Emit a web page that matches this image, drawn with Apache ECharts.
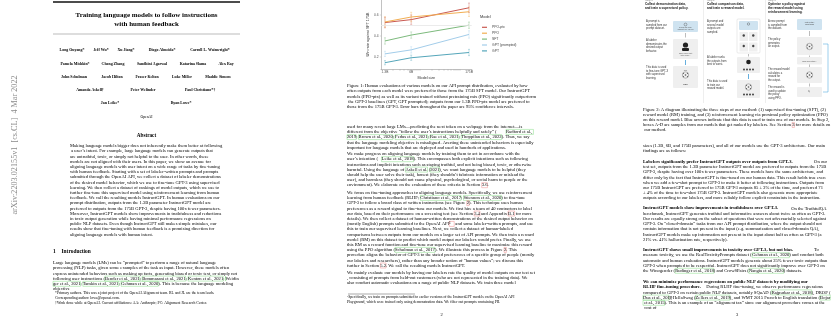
<!DOCTYPE html>
<html>
<head>
<meta charset="utf-8">
<script src="https://cdn.jsdelivr.net/npm/echarts@6/dist/echarts.min.js"></script>
<style>
  html, body { margin: 0; padding: 0; background: #fff; }
  #chart { width: 840px; height: 316px; }
</style>
</head>
<body>
<div id="chart"></div>
<script>
// ---- chart data (Figure 1: win rate against SFT 175B) ----
const modelSizes = [1.3, 6, 175];
const seriesNames = ['PPO-ptx', 'PPO', 'SFT', 'GPT (prompted)', 'GPT'];
const seriesColors = ['#c95a52', '#f2ae52', '#7dba7d', '#a3cdea', '#55a6ba'];
const ppoPtxWin = [0.525, 0.553, 0.666];
const ppoWin = [0.531, 0.578, 0.628];
const sftWin = [0.35, 0.406, 0.50];
const gptPromptedWin = [0.227, 0.265, 0.412];
const gptWin = [0.143, 0.19, 0.24];
const ppoPtxErr = [0.05, 0.045, 0.045];
const ppoErr = [0.05, 0.045, 0.045];
const sftErr = [0.03, 0.03, 0.03];
const gptPromptedErr = [0.025, 0.03, 0.035];
const gptErr = [0.02, 0.025, 0.03];
const yTickValues = [0.2, 0.4, 0.6];
const xLabelValues = [1.3, 6, 175];
const xMinorTicks = [2, 3, 4, 5, 6, 7, 8, 9, 10, 20, 30, 40, 50, 60, 70, 80, 90, 100, 200];
const refLine = 0.5;

const winRates = [ppoPtxWin, ppoWin, sftWin, gptPromptedWin, gptWin];
const winErrs = [ppoPtxErr, ppoErr, sftErr, gptPromptedErr, gptErr];

// ---- page text ----
// {b|..} bold lead-in, {c|..} green citation box, {r|..} red reference box
const SERIF = 'Liberation Serif';
const SANS = 'Liberation Sans';
const INK = '#000';

const titleLines = ['Training language models to follow instructions', 'with human feedback'];
const authorRows = [
  [['Long Ouyang*', 72], ['Jeff Wu*', 101], ['Xu Jiang*', 126], ['Diogo Almeida*', 162], ['Carroll L. Wainwright*', 210]],
  [['Pamela Mishkin*', 75], ['Chong Zhang', 113], ['Sandhini Agarwal', 152], ['Katarina Slama', 193], ['Alex Ray', 226]],
  [['John Schulman', 74], ['Jacob Hilton', 112], ['Fraser Kelton', 147], ['Luke Miller', 182], ['Maddie Simens', 218]],
  [['Amanda Askell\u2020', 90], ['Peter Welinder', 143], ['Paul Christiano*\u2020', 200]],
  [['Jan Leike*', 110], ['Ryan Lowe*', 181]]
];
const authorRowY = [50, 63.5, 77, 90, 103];

const abstractText = 'Making language models bigger does not inherently make them better at following a user\u2019s intent. For example, large language models can generate outputs that are untruthful, toxic, or simply not helpful to the user. In other words, these models are not aligned with their users. In this paper, we show an avenue for aligning language models with user intent on a wide range of tasks by fine-tuning with human feedback. Starting with a set of labeler-written prompts and prompts submitted through the OpenAI API, we collect a dataset of labeler demonstrations of the desired model behavior, which we use to fine-tune GPT-3 using supervised learning. We then collect a dataset of rankings of model outputs, which we use to further fine-tune this supervised model using reinforcement learning from human feedback. We call the resulting models InstructGPT. In human evaluations on our prompt distribution, outputs from the 1.3B parameter InstructGPT model are preferred to outputs from the 175B GPT-3, despite having 100x fewer parameters. Moreover, InstructGPT models show improvements in truthfulness and reductions in toxic output generation while having minimal performance regressions on public NLP datasets. Even though InstructGPT still makes simple mistakes, our results show that fine-tuning with human feedback is a promising direction for aligning language models with human intent.';
const introText = 'Large language models (LMs) can be \u201cprompted\u201d to perform a range of natural language processing (NLP) tasks, given some examples of the task as input. However, these models often express unintended behaviors such as making up facts, generating biased or toxic text, or simply not following user instructions ({c|Bender et al., 2021}; {c|Bommasani et al., 2021}; {c|Kenton et al., 2021}; {c|Weidinger et al., 2021}; {c|Tamkin et al., 2021}; {c|Gehman et al., 2020}). This is because the language modeling objective';
const footnote1 = '*Primary authors. This was a joint project of the OpenAI Alignment team. RL and JL are the team leads. Corresponding author: lowe@openai.com.\n\u2020Work done while at OpenAI. Current affiliations: AA: Anthropic; PC: Alignment Research Center.';

const fig1Caption = 'Figure 1: Human evaluations of various models on our API prompt distribution, evaluated by how often outputs from each model were preferred to those from the 175B SFT model. Our InstructGPT models (PPO-ptx) as well as its variant trained without pretraining mix (PPO) significantly outperform the GPT-3 baselines (GPT, GPT prompted); outputs from our 1.3B PPO-ptx model are preferred to those from the 175B GPT-3. Error bars throughout the paper are 95% confidence intervals.';
const page2Paras = [
  'used for many recent large LMs\u2014predicting the next token on a webpage from the internet\u2014is different from the objective \u201cfollow the user\u2019s instructions helpfully and safely\u201d ({c|Radford et al., 2019}; {c|Brown et al., 2020}; {c|Fedus et al., 2021}; {c|Rae et al., 2021}; {c|Thoppilan et al., 2022}). Thus, we say that the language modeling objective is misaligned. Averting these unintended behaviors is especially important for language models that are deployed and used in hundreds of applications.',
  'We make progress on aligning language models by training them to act in accordance with the user\u2019s intention ({c|Leike et al., 2018}). This encompasses both explicit intentions such as following instructions and implicit intentions such as staying truthful, and not being biased, toxic, or otherwise harmful. Using the language of {c|Askell et al.} ({c|2021}), we want language models to be helpful (they should help the user solve their task), honest (they shouldn\u2019t fabricate information or mislead the user), and harmless (they should not cause physical, psychological, or social harm to people or the environment). We elaborate on the evaluation of these criteria in Section {r|3.6}.',
  'We focus on fine-tuning approaches to aligning language models. Specifically, we use reinforcement learning from human feedback (RLHF; {c|Christiano et al., 2017}; {c|Stiennon et al., 2020}) to fine-tune GPT-3 to follow a broad class of written instructions (see Figure {r|2}). This technique uses human preferences as a reward signal to fine-tune our models. We first hire a team of 40 contractors to label our data, based on their performance on a screening test (see Section {r|3.4} and Appendix {r|B.1} for more details). We then collect a dataset of human-written demonstrations of the desired output behavior on (mostly English) prompts submitted to the OpenAI API{r|\u00b9} and some labeler-written prompts, and use this to train our supervised learning baselines. Next, we collect a dataset of human-labeled comparisons between outputs from our models on a larger set of API prompts. We then train a reward model (RM) on this dataset to predict which model output our labelers would prefer. Finally, we use this RM as a reward function and fine-tune our supervised learning baseline to maximize this reward using the PPO algorithm ({c|Schulman et al., 2017}). We illustrate this process in Figure {r|2}. This procedure aligns the behavior of GPT-3 to the stated preferences of a specific group of people (mostly our labelers and researchers), rather than any broader notion of \u201chuman values\u201d; we discuss this further in Section {r|5.2}. We call the resulting models InstructGPT.',
  'We mainly evaluate our models by having our labelers rate the quality of model outputs on our test set, consisting of prompts from held-out customers (who are not represented in the training data). We also conduct automatic evaluations on a range of public NLP datasets. We train three model'
];
const page2ParaY = [124.1, 151.4, 190.1, 270.1];
const footnote2 = '\u00b9Specifically, we train on prompts submitted to earlier versions of the InstructGPT models on the OpenAI API Playground, which were trained only using demonstration data. We filter out prompts containing PII.';

const fig2Caption = 'Figure 2: A diagram illustrating the three steps of our method: (1) supervised fine-tuning (SFT), (2) reward model (RM) training, and (3) reinforcement learning via proximal policy optimization (PPO) on this reward model. Blue arrows indicate that this data is used to train one of our models. In Step 2, boxes A-D are samples from our models that get ranked by labelers. See Section {r|3} for more details on our method.';
const page3Paras = [
  'sizes (1.3B, 6B, and 175B parameters), and all of our models use the GPT-3 architecture. Our main findings are as follows:',
  '{b|Labelers significantly prefer InstructGPT outputs over outputs from GPT-3.} On our test set, outputs from the 1.3B parameter InstructGPT model are preferred to outputs from the 175B GPT-3, despite having over 100x fewer parameters. These models have the same architecture, and differ only by the fact that InstructGPT is fine-tuned on our human data. This result holds true even when we add a few-shot prompt to GPT-3 to make it better at following instructions. Outputs from our 175B InstructGPT are preferred to 175B GPT-3 outputs 85 \u00b1 3% of the time, and preferred 71 \u00b1 4% of the time to few-shot 175B GPT-3. InstructGPT models also generate more appropriate outputs according to our labelers, and more reliably follow explicit constraints in the instruction.',
  '{b|InstructGPT models show improvements in truthfulness over GPT-3.} On the TruthfulQA benchmark, InstructGPT generates truthful and informative answers about twice as often as GPT-3. Our results are equally strong on the subset of questions that were not adversarially selected against GPT-3. On \u201cclosed-domain\u201d tasks from our API prompt distribution, where the output should not contain information that is not present in the input (e.g. summarization and closed-domain QA), InstructGPT models make up information not present in the input about half as often as GPT-3 (a 21% vs. 41% hallucination rate, respectively).',
  '{b|InstructGPT shows small improvements in toxicity over GPT-3, but not bias.} To measure toxicity, we use the RealToxicityPrompts dataset ({c|Gehman et al., 2020}) and conduct both automatic and human evaluations. InstructGPT models generate about 25% fewer toxic outputs than GPT-3 when prompted to be respectful. InstructGPT does not significantly improve over GPT-3 on the Winogender ({c|Rudinger et al., 2018}) and CrowSPairs ({c|Nangia et al., 2020}) datasets.',
  '{b|We can minimize performance regressions on public NLP datasets by modifying our RLHF fine-tuning procedure.} During RLHF fine-tuning, we observe performance regressions compared to GPT-3 on certain public NLP datasets, notably SQuAD ({c|Rajpurkar et al., 2018}), DROP ({c|Dua et al., 2019}), HellaSwag ({c|Zellers et al., 2019}), and WMT 2015 French to English translation ({c|Bojar et al., 2015}). This is an example of an \u201calignment tax\u201d since our alignment procedure comes at the cost of'
];
const page3ParaY = [143.4, 159.1, 205.7, 247.4, 279.4];

// ---- graphic helpers ----
function txt(x, y, text, o, rotation) {
  return { type: 'text', x: x, y: y, rotation: rotation || 0, silent: true,
    style: Object.assign({ text: text, fontFamily: SERIF, fontSize: 4.5, fill: INK, align: 'left', verticalAlign: 'middle' }, o || {}) };
}
function para(x, y, w, text, o) {
  const fs = (o && o.fontSize) || 4.6;
  const lh = (o && o.lineHeight) || 5.2;
  const base = { fontFamily: SERIF, fontSize: fs, lineHeight: lh, fill: INK };
  return { type: 'text', x: x, y: y, silent: true,
    style: Object.assign({ text: text, width: w, overflow: 'break', fontFamily: SERIF, fontSize: fs, lineHeight: lh,
      fill: INK, verticalAlign: 'top',
      rich: {
        b: Object.assign({ fontWeight: 'bold' }, base),
        c: Object.assign({ borderColor: '#86dc86', borderWidth: 0.5 }, base),
        r: Object.assign({ borderColor: '#ee8a8a', borderWidth: 0.5 }, base)
      } }, o || {}) };
}
function rect(x, y, w, h, fill, stroke, r) {
  return { type: 'rect', silent: true, shape: { x: x, y: y, width: w, height: h, r: r || 0 },
    style: { fill: fill, stroke: stroke || null, lineWidth: 0.4 } };
}
function seg(x1, y1, x2, y2, color, w) {
  return { type: 'line', silent: true, shape: { x1: x1, y1: y1, x2: x2, y2: y2 }, style: { stroke: color, lineWidth: w || 0.5 } };
}
function dot(cx, cy, r, fill, stroke) {
  return { type: 'circle', silent: true, shape: { cx: cx, cy: cy, r: r }, style: { fill: fill, stroke: stroke || null, lineWidth: 0.4 } };
}
function small(x, y, text, o) {
  return { type: 'text', x: x, y: y, silent: true,
    style: Object.assign({ text: text, fontFamily: SANS, fontSize: 2.7, lineHeight: 3.4, fill: '#333', verticalAlign: 'top' }, o || {}) };
}
function netIcon(cx, cy) {
  return [dot(cx, cy, 3.2, 'none', '#555'), dot(cx, cy, 0.8, '#555'), dot(cx - 2, cy - 1.5, 0.6, '#555'),
    dot(cx + 2, cy - 1.5, 0.6, '#555'), dot(cx - 2, cy + 1.5, 0.6, '#555'), dot(cx + 2, cy + 1.5, 0.6, '#555')];
}
function dotRow(cx, cy) {
  return [-4.5, -1.5, 1.5, 4.5].map(function (d) { return dot(cx + d, cy, 1, '#444'); });
}

const graphics = [];
// page 1
graphics.push(txt(15, 145, 'arXiv:2203.02155v1  [cs.CL]  4 Mar 2022', { fontSize: 8.2, fill: '#8a8a8a', align: 'center' }, Math.PI / 2));
graphics.push(rect(53, 1.3, 187, 1.4, '#111'));
titleLines.forEach(function (s, i) {
  graphics.push(txt(146.5, 15 + i * 9, s, { fontSize: 7, fontWeight: 'bold', align: 'center' }));
});
graphics.push(rect(53, 33.8, 187, 0.5, '#777'));
authorRows.forEach(function (row, i) {
  row.forEach(function (a) {
    graphics.push(txt(a[1], authorRowY[i], a[0], { fontSize: 3.9, fontWeight: 'bold', align: 'center' }));
  });
});
graphics.push(txt(146.5, 117, 'OpenAI', { fontSize: 3.8, align: 'center' }));
graphics.push(txt(146.5, 136, 'Abstract', { fontSize: 5.2, fontWeight: 'bold', align: 'center' }));
graphics.push(para(70, 143.4, 153, abstractText));
graphics.push(txt(53, 252, '1', { fontSize: 5.4, fontWeight: 'bold' }));
graphics.push(txt(61.5, 252, 'Introduction', { fontSize: 5.4, fontWeight: 'bold' }));
graphics.push(para(53, 260.4, 187, introText));
graphics.push(para(55, 290.6, 185, footnote1, { fontSize: 3.8, lineHeight: 5 }));

// page 2
graphics.push(para(347, 83.4, 189, fig1Caption));
page2Paras.forEach(function (p, i) { graphics.push(para(347, page2ParaY[i], 189, p)); });
graphics.push(rect(348, 293.8, 67, 0.4, '#555'));
graphics.push(para(347, 294.8, 189, footnote2, { fontSize: 3.8, lineHeight: 5 }));
graphics.push(txt(441.5, 315, '2', { fontSize: 4.5, align: 'center' }));
graphics.push(txt(480, 17, 'Model', { fontFamily: SANS, fontSize: 3.9, fill: '#333' }));

// page 3 diagram
graphics.push(seg(703.5, 0, 703.5, 103, '#dddddd', 0.5));
graphics.push(seg(765.5, 0, 765.5, 103, '#dddddd', 0.5));
[[645, 'Step 1', 'Collect demonstration data,\nand train a supervised policy.'],
 [707, 'Step 2', 'Collect comparison data,\nand train a reward model.'],
 [768, 'Step 3', 'Optimize a policy against\nthe reward model using\nreinforcement learning.']].forEach(function (h) {
  graphics.push(small(h[0], -1.2, h[1], { fill: '#777' }));
  graphics.push(small(h[0], 2.4, h[2], { fontWeight: 'bold', fontSize: 3.1, lineHeight: 3.7, fill: '#111' }));
});
// column 1
graphics.push(small(646, 20, 'A prompt is\nsampled from our\nprompt dataset.'));
graphics.push(rect(673, 21, 25, 11, '#cfe3f0', null, 1));
graphics.push(dot(685.5, 24.5, 1.4, 'none', '#444'));
graphics.push(small(685.5, 27, 'Explain the moon\nlanding to a 6 year old', { fontSize: 1.6, lineHeight: 2, align: 'center', fill: '#555' }));
graphics.push(seg(685.5, 33, 685.5, 37.5, '#555', 0.4));
graphics.push(small(646, 39, 'A labeler\ndemonstrates the\ndesired output\nbehavior.'));
graphics.push(rect(673, 39, 25, 20, '#efefef', null, 1));
graphics.push(dot(685.5, 45, 2.6, '#222'));
graphics.push(rect(682, 48, 7, 3, '#222', null, 1));
graphics.push(small(685.5, 53, 'Some people went\nto the moon...', { fontSize: 1.6, lineHeight: 2, align: 'center', fill: '#555' }));
graphics.push(seg(685.5, 60, 685.5, 65, '#3d9ad6', 0.8));
graphics.push(small(646, 66, 'This data is used\nto fine-tune GPT-3\nwith supervised\nlearning.'));
graphics.push(rect(673, 66, 25, 22, '#efefef', null, 1));
netIcon(685.5, 75).forEach(function (g) { graphics.push(g); });
graphics.push(small(685.5, 68.5, 'SFT', { fontSize: 1.8, align: 'center', fill: '#555' }));
graphics.push(small(685.5, 82.5, 'BBB', { fontSize: 2.2, align: 'center', fill: '#444' }));
// column 2
graphics.push(small(707, 20, 'A prompt and\nseveral model\noutputs are\nsampled.'));
graphics.push(rect(737, 19, 23, 34, '#ffffff', '#cccccc', 1));
graphics.push(rect(739, 21, 19, 9, '#cfe3f0', null, 1));
graphics.push(dot(748.5, 24, 1.2, 'none', '#444'));
[[739.5, 32], [749, 32], [739.5, 42.5], [749, 42.5]].forEach(function (p) {
  graphics.push(rect(p[0], p[1], 8.5, 9, '#efefef', null, 0.6));
  graphics.push(dot(p[0] + 4.25, p[1] + 3.5, 1.2, '#444'));
});
graphics.push(seg(748.5, 54, 748.5, 56.5, '#555', 0.4));
graphics.push(small(707, 56, 'A labeler ranks\nthe outputs from\nbest to worst.'));
graphics.push(rect(737, 57, 23, 16, '#efefef', null, 1));
graphics.push(dot(748.5, 62, 2.3, '#222'));
dotRow(748.5, 69.5).forEach(function (g) { graphics.push(g); });
graphics.push(seg(748.5, 74, 748.5, 79, '#3d9ad6', 0.8));
graphics.push(small(707, 80, 'This data is used\nto train our\nreward model.'));
graphics.push(rect(737, 80, 23, 18, '#efefef', null, 1));
netIcon(748.5, 87).forEach(function (g) { graphics.push(g); });
dotRow(748.5, 94.5).forEach(function (g) { graphics.push(g); });
// column 3
graphics.push(small(768, 20, 'A new prompt\nis sampled from\nthe dataset.'));
graphics.push(rect(797, 19, 25, 11, '#cfe3f0', null, 1));
graphics.push(small(809.5, 21, 'Write a story\nabout frogs', { fontSize: 1.7, lineHeight: 2.1, align: 'center', fill: '#444' }));
graphics.push(seg(809.5, 31, 809.5, 36, '#555', 0.4));
graphics.push(small(768, 38, 'The policy\ngenerates\nan output.'));
graphics.push(rect(797, 37, 25, 18, '#efefef', null, 1));
netIcon(809.5, 46.5).forEach(function (g) { graphics.push(g); });
graphics.push(seg(809.5, 55.5, 809.5, 57, '#555', 0.4));
graphics.push(rect(797, 57, 25, 7.5, '#efefef', null, 1));
graphics.push(small(809.5, 59.5, 'Once upon a time...', { fontSize: 1.7, align: 'center', fill: '#444' }));
graphics.push(seg(809.5, 64.5, 809.5, 67, '#555', 0.4));
graphics.push(small(768, 68, 'The reward model\ncalculates a\nreward for\nthe output.'));
graphics.push(rect(797, 67, 25, 16, '#efefef', null, 1));
netIcon(809.5, 75).forEach(function (g) { graphics.push(g); });
graphics.push(seg(809.5, 83.5, 809.5, 86.5, '#555', 0.4));
graphics.push(small(768, 86, 'The reward is\nused to update\nthe policy\nusing PPO.'));
graphics.push(rect(797, 87, 25, 10, '#efefef', null, 1));
graphics.push(small(809.5, 89.5, 'r\u2096', { fontSize: 3, align: 'center', fill: '#333' }));
graphics.push(seg(828, 44, 828, 92, '#5aaee0', 0.6));
graphics.push(seg(823, 44, 828, 44, '#5aaee0', 0.6));
graphics.push(seg(823, 92, 828, 92, '#5aaee0', 0.6));
// page 3 text
graphics.push(para(643, 106.7, 188, fig2Caption));
page3Paras.forEach(function (p, i) { graphics.push(para(643, page3ParaY[i], 188, p)); });
graphics.push(txt(737, 314.5, '3', { fontSize: 4.5, align: 'center' }));

// ---- series ----
const series = [];
seriesNames.forEach(function (name, i) {
  const color = seriesColors[i];
  series.push({
    name: name,
    type: 'line',
    data: modelSizes.map(function (x, j) { return [x, winRates[i][j]]; }),
    symbol: 'none',
    lineStyle: { width: 1, color: color },
    itemStyle: { color: color },
    z: 3,
    markLine: i === 0 ? {
      silent: true, symbol: 'none', label: { show: false },
      lineStyle: { color: '#e6e6e6', type: 'solid', width: 0.8 },
      data: [{ yAxis: refLine }]
    } : undefined
  });
  series.push({
    name: name + ' CI',
    type: 'custom',
    z: 2,
    encode: { x: 0, y: [1, 2] },
    data: modelSizes.map(function (x, j) { return [x, winRates[i][j] - winErrs[i][j], winRates[i][j] + winErrs[i][j]]; }),
    renderItem: function (params, api) {
      const lo = api.coord([api.value(0), api.value(1)]);
      const hi = api.coord([api.value(0), api.value(2)]);
      const st = { stroke: color, lineWidth: 0.5, opacity: 0.7 };
      return { type: 'group', children: [
        { type: 'line', shape: { x1: lo[0], y1: lo[1], x2: hi[0], y2: hi[1] }, style: st },
        { type: 'line', shape: { x1: lo[0] - 1, y1: lo[1], x2: lo[0] + 1, y2: lo[1] }, style: st },
        { type: 'line', shape: { x1: hi[0] - 1, y1: hi[1], x2: hi[0] + 1, y2: hi[1] }, style: st }
      ] };
    }
  });
});

const chart = echarts.init(document.getElementById('chart'), null, { renderer: 'canvas' });
chart.setOption({
  animation: false,
  backgroundColor: '#ffffff',
  grid: { left: 381, right: 368.3, top: -1, bottom: 246.7, containLabel: false },
  legend: {
    data: seriesNames,
    orient: 'vertical',
    left: 477,
    top: 20.8,
    itemWidth: 5,
    itemHeight: 1.2,
    itemGap: 2.9,
    icon: 'rect',
    textStyle: { fontFamily: SANS, fontSize: 3.4, color: '#444' }
  },
  xAxis: {
    type: 'log',
    logBase: 10,
    min: 1.03,
    max: 205,
    name: 'Model size',
    nameLocation: 'middle',
    nameGap: 6.2,
    nameTextStyle: { fontFamily: SANS, fontSize: 3.7, color: '#333' },
    axisLine: { show: true, lineStyle: { color: '#999', width: 0.6 } },
    axisTick: { show: true, length: 1.5, customValues: xMinorTicks, lineStyle: { color: '#999', width: 0.4 } },
    axisLabel: {
      customValues: xLabelValues,
      margin: 1.3,
      fontFamily: SANS, fontSize: 3.3, color: '#555',
      formatter: function (v) { return Number(v).toPrecision(3).replace(/\.?0+$/, '') + 'B'; }
    },
    splitLine: { show: false }
  },
  yAxis: {
    type: 'value',
    min: 0.08,
    max: 0.74,
    name: 'Win rate against SFT 175B',
    nameLocation: 'middle',
    nameGap: 9,
    nameTextStyle: { fontFamily: SANS, fontSize: 3.7, color: '#333' },
    axisLine: { show: true, lineStyle: { color: '#999', width: 0.6 } },
    axisTick: { show: true, length: 1.2, customValues: yTickValues, lineStyle: { color: '#999', width: 0.4 } },
    axisLabel: { customValues: yTickValues, margin: 2.5, fontFamily: SANS, fontSize: 3.3, color: '#555' },
    splitLine: { show: false }
  },
  graphic: { elements: graphics },
  series: series
});
</script>
</body>
</html>
